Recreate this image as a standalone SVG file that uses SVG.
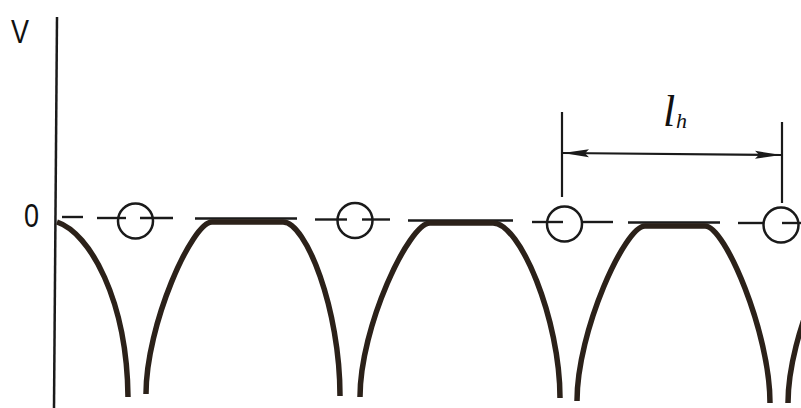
<svg xmlns="http://www.w3.org/2000/svg" width="801" height="408" viewBox="0 0 801 408">
<style>
.ax{stroke:#1a1a1a;stroke-width:2.5;fill:none}
.dash{stroke:#1a1a1a;stroke-width:2.4;fill:none}
.circ{stroke:#1a1a1a;stroke-width:2.5;fill:none}
.pot{stroke:#2b2119;stroke-width:5.5;fill:none;stroke-linecap:butt;stroke-linejoin:round}
.dim{stroke:#1a1a1a;stroke-width:2.2;fill:none}
.lbl{font-family:"Liberation Sans",Arial,sans-serif;fill:#111}
.math{font-family:"Liberation Serif","Times New Roman",serif;font-style:italic;fill:#111}
</style>
<defs>
<marker id="ah" markerUnits="userSpaceOnUse" markerWidth="28" markerHeight="12" refX="26" refY="5" orient="auto-start-reverse" viewBox="0 0 28 10">
<path d="M0,1 L26,5 L0,9 L4,5 Z" fill="#1a1a1a"/>
</marker>
</defs>
<rect width="801" height="408" fill="#ffffff"/>

<g id="axis">
<line class="ax" x1="57" y1="17" x2="54" y2="408"/>
<text class="lbl" x="11" y="43" font-size="34" textLength="18" lengthAdjust="spacingAndGlyphs">V</text>
<text class="lbl" x="24" y="227" font-size="33" textLength="15" lengthAdjust="spacingAndGlyphs">0</text>
</g>

<g id="zero-line">
<line class="dash" x1="62" y1="217" x2="83" y2="217"/>
<line class="dash" x1="97" y1="218" x2="126" y2="218"/>
<line class="dash" x1="140" y1="218" x2="173" y2="218"/>
<line class="dash" x1="195" y1="218.5" x2="297" y2="218.5"/>
<line class="dash" x1="315" y1="219.5" x2="347" y2="219.5"/>
<line class="dash" x1="362" y1="219.5" x2="390" y2="219.5"/>
<line class="dash" x1="408" y1="220.5" x2="513" y2="220.5"/>
<line class="dash" x1="532" y1="222" x2="563" y2="222"/>
<line class="dash" x1="582" y1="222" x2="613" y2="222"/>
<line class="dash" x1="628" y1="222.5" x2="720" y2="222.5"/>
<line class="dash" x1="738" y1="223" x2="763" y2="223"/>
<line class="dash" x1="782" y1="223" x2="801" y2="223"/>
</g>

<g id="ion1"><circle class="circ" cx="135.5" cy="221" r="17.5"/></g>
<g id="ion2"><circle class="circ" cx="355" cy="220.5" r="17.5"/></g>
<g id="ion3"><circle class="circ" cx="564.5" cy="224" r="17.5"/></g>
<g id="ion4"><circle class="circ" cx="781" cy="225" r="17.5"/></g>

<g id="potential">
<path class="pot" d="M57,222 C90,233 127,300 128,397"/>
<path class="pot" d="M146,394 C146,325 192,222 212,222 L283,222 C306,222 340,309 340,396"/>
<path class="pot" d="M360,397 C360,327 409,223 430,223 L493,223 C520,223 560,319 560,398"/>
<path class="pot" d="M577,401 C577,331 625,226 645,226 L705,226 C725,226 770,333 770,403"/>
<path class="pot" d="M788,403 C788,333 837,230 858,230"/>
</g>

<g id="dimension">
<line class="dim" x1="562" y1="112" x2="562" y2="197"/>
<line class="dim" x1="782" y1="122" x2="782" y2="203"/>
<line class="dim" x1="563" y1="153" x2="781" y2="155" marker-start="url(#ah)" marker-end="url(#ah)"/>
<text class="math" x="663" y="126" font-size="44">l</text>
<text class="math" x="676" y="128" font-size="22">h</text>
</g>
</svg>
